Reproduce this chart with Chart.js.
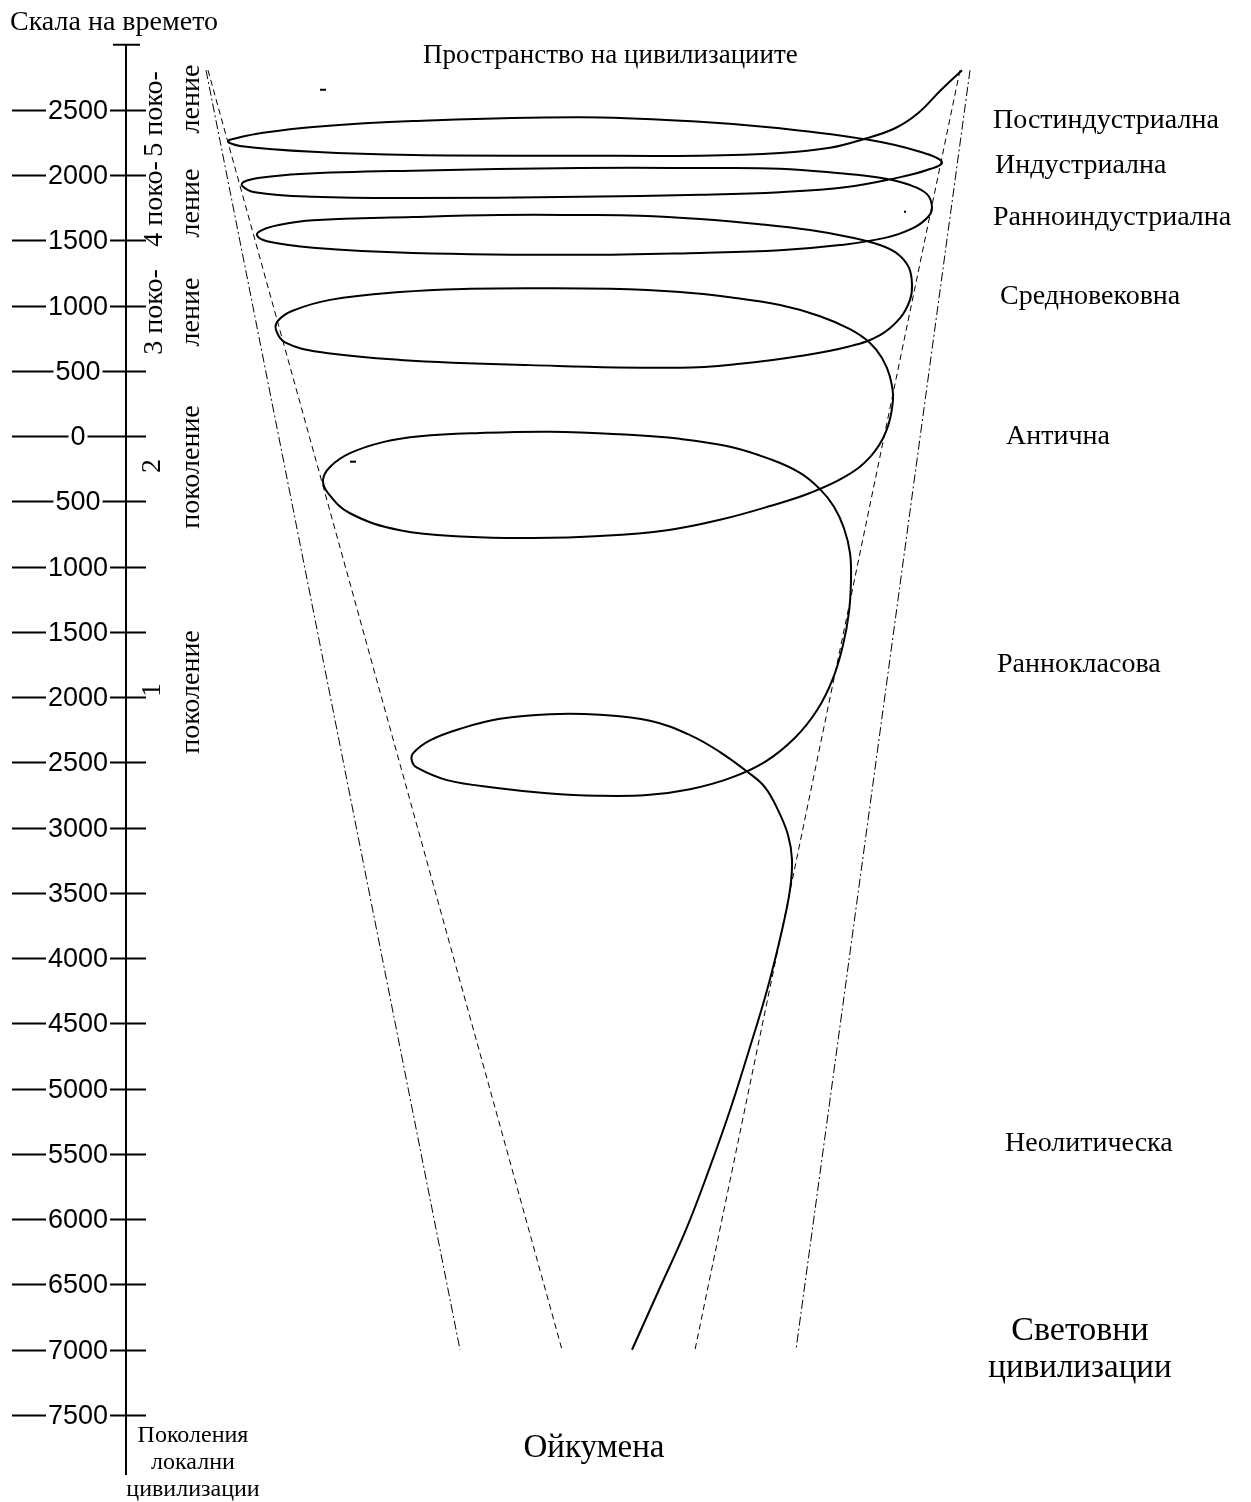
<!DOCTYPE html>
<html>
<head>
<meta charset="utf-8">
<script src="https://cdn.jsdelivr.net/npm/chart.js@4/dist/chart.umd.min.js"></script>
<style>
html,body{margin:0;padding:0;background:#fff;}
#wrap{width:1251px;height:1502px;position:relative;}
canvas{display:block;}
</style>
</head>
<body>
<div id="wrap"><canvas id="c" width="1251" height="1502"></canvas></div>
<script>
// ---- DATA ----
const tickYears = [2500, 2000, 1500, 1000, 500, 0, -500, -1000, -1500, -2000, -2500, -3000, -3500, -4000, -4500, -5000, -5500, -6000, -6500, -7000, -7500];
const tickLabels = ['2500', '2000', '1500', '1000', '500', '0', '500', '1000', '1500', '2000', '2500', '3000', '3500', '4000', '4500', '5000', '5500', '6000', '6500', '7000', '7500'];

// spiral of civilizations: space position (x) and year (y), in path order from the Neolithic start
const spiralX = [632, 659, 686, 709, 730, 749, 767, 782, 790, 792, 788, 778, 765, 748, 720, 690, 650, 600, 550, 500,
  463, 430, 413, 412, 417, 447, 497, 547, 597, 647, 690, 730, 765, 795, 817, 833, 843, 849, 851, 850,
  844, 834, 820, 800, 770, 730, 680, 620, 550, 480, 420, 383, 350, 330, 323, 328, 350, 400, 467, 533,
  600, 667, 720, 770, 810, 845, 870, 886, 893, 890, 882, 870, 850, 820, 780, 730, 680, 610, 540, 470,
  400, 330, 292, 278, 276, 285, 320, 400, 530, 680, 740, 800, 850, 880, 900, 910, 912, 909, 898, 880,
  850, 810, 760, 700, 640, 580, 500, 413, 313, 280, 262, 257, 267, 313, 413, 580, 700, 780, 840, 885,
  913, 928, 932, 927, 910, 880, 840, 780, 700, 580, 413, 300, 260, 244, 242, 255, 313, 413, 580, 700,
  780, 847, 897, 927, 942, 920, 870, 780, 700, 580, 413, 313, 263, 237, 228, 240, 313, 413, 580, 700,
  780, 830, 865, 895, 918, 940, 962];
const spiralYear = [-7000, -6540, -6080, -5620, -5165, -4705, -4245, -3785, -3475, -3245, -3055, -2865, -2690, -2575, -2420, -2290, -2180, -2135, -2130, -2165,
  -2235, -2330, -2430, -2490, -2540, -2635, -2695, -2735, -2755, -2750, -2705, -2620, -2495, -2310, -2100, -1855, -1600, -1345, -1100, -895,
  -705, -540, -405, -280, -175, -80, -20, 15, 35, 25, 0, -45, -130, -235, -335, -435, -590, -720, -770, -780,
  -765, -720, -640, -535, -435, -310, -160, 35, 280, 455, 600, 715, 820, 920, 1005, 1065, 1105, 1130, 1135, 1130,
  1105, 1045, 960, 885, 815, 720, 645, 585, 545, 525, 555, 615, 690, 775, 905, 1045, 1160, 1290, 1395, 1465,
  1525, 1580, 1625, 1665, 1690, 1695, 1695, 1680, 1655, 1620, 1580, 1540, 1495, 1445, 1405, 1390, 1405, 1425, 1465, 1520,
  1595, 1680, 1755, 1855, 1925, 1980, 2015, 2050, 2055, 2055, 2035, 2010, 1980, 1950, 1920, 1870, 1835, 1825, 1835, 1850,
  1870, 1910, 1980, 2040, 2100, 2180, 2270, 2360, 2410, 2445, 2415, 2370, 2325, 2285, 2260, 2225, 2180, 2155, 2150, 2150,
  2170, 2210, 2280, 2360, 2475, 2645, 2805];

// stray specks in the original drawing
const speckX = [323, 905, 353];
const speckYear = [2655, 1720, -195];

// funnel boundaries (space position at top year and bottom year)
const funnelYears = [2805, -7000];
const leftOuterX = [206, 460];
const leftInnerX = [208, 562];
const rightInnerX = [960, 695];
const rightOuterX = [970, 796];

// time axis
const axisSpaceX = 126;
const axisYears = [3000, -7960];

const civilizations = ['Постиндустриална', 'Индустриална', 'Ранноиндустриална', 'Средновековна', 'Антична', 'Раннокласова', 'Неолитическа'];

// ---- CHART ----
const pts = (xs, ys) => xs.map((x, i) => ({x: x, y: ys[i]}));
const SERIF = '"Liberation Serif", "Times New Roman", serif';
const SANS = '"Liberation Sans", Arial, sans-serif';

const decor = {
  id: 'decor',
  beforeDraw(chart) {
    const ctx = chart.ctx;
    ctx.save();
    ctx.fillStyle = '#fff';
    ctx.fillRect(0, 0, chart.width, chart.height);
    ctx.restore();
  },
  afterDraw(chart) {
    const ctx = chart.ctx;
    const xs = chart.scales.x, ys = chart.scales.y;
    const ax = xs.getPixelForValue(axisSpaceX);
    ctx.save();
    ctx.strokeStyle = '#000';
    ctx.fillStyle = '#000';
    // vertical axis
    ctx.lineWidth = 2;
    ctx.beginPath();
    ctx.moveTo(ax, ys.getPixelForValue(axisYears[0]));
    ctx.lineTo(ax, ys.getPixelForValue(axisYears[1]));
    ctx.stroke();
    ctx.beginPath();
    const capY = ys.getPixelForValue(axisYears[0]);
    ctx.moveTo(ax - 13, capY); ctx.lineTo(ax + 14, capY);
    ctx.stroke();
    // ticks
    ctx.font = '27px ' + SANS;
    ctx.textAlign = 'center';
    ctx.textBaseline = 'middle';
    tickYears.forEach((v, i) => {
      const py = Math.round(ys.getPixelForValue(v)) + 0.5;
      ctx.lineWidth = 2;
      ctx.beginPath();
      ctx.moveTo(12, py); ctx.lineTo(ax + 20, py);
      ctx.stroke();
      const w = ctx.measureText(tickLabels[i]).width;
      ctx.fillStyle = '#fff';
      ctx.fillRect(78 - w / 2 - 2, py - 12, w + 4, 24);
      ctx.fillStyle = '#000';
      ctx.fillText(tickLabels[i], 78, py + 1);
    });
    // texts
    const txt = (s, x, y, size, align) => {
      ctx.font = size + 'px ' + SERIF;
      ctx.textAlign = align || 'left';
      ctx.fillText(s, x, y);
    };
    txt('Скала на времето', 10, 23, 28);
    txt('Пространство на цивилизациите', 423, 56, 27);
    const civY = [121, 166, 218, 297, 437, 665, 1144];
    const civX = [993, 995, 993, 1000, 1006, 997, 1005];
    civilizations.forEach((s, i) => txt(s, civX[i], civY[i], 28));
    txt('Световни', 1080, 1331, 34, 'center');
    txt('цивилизации', 1080, 1368, 33, 'center');
    txt('Ойкумена', 594, 1448, 33, 'center');
    txt('Поколения', 193, 1436, 24, 'center');
    txt('локални', 193, 1463, 24, 'center');
    txt('цивилизации', 193, 1490, 24, 'center');
    // rotated generation labels
    const rot = (s, x, y) => {
      ctx.save();
      ctx.translate(x, y);
      ctx.rotate(-Math.PI / 2);
      ctx.font = '28px ' + SERIF;
      ctx.textAlign = 'center';
      ctx.fillText(s, 0, 0);
      ctx.restore();
    };
    rot('5 поко-', 155, 114);
    rot('ление', 192, 99);
    rot('4 поко-', 155, 204);
    rot('ление', 192, 203);
    rot('3 поко-', 155, 312);
    rot('ление', 192, 312);
    rot('2', 153, 466);
    rot('поколение', 192, 467);
    rot('1', 153, 690);
    rot('поколение', 192, 692);
    ctx.restore();
  }
};

const lineDs = (xs, dash) => ({
  data: pts(xs, funnelYears), showLine: true, borderColor: '#000', borderWidth: 1,
  borderDash: dash, pointRadius: 0, tension: 0
});

new Chart(document.getElementById('c'), {
  type: 'scatter',
  data: {
    datasets: [
      {data: pts(spiralX, spiralYear), showLine: true, borderColor: '#000', borderWidth: 2, pointRadius: 0, tension: 0.4},
      lineDs(leftOuterX, [9, 3, 2, 3]),
      lineDs(leftInnerX, [6, 4]),
      lineDs(rightInnerX, [6, 4]),
      lineDs(rightOuterX, [9, 3, 2, 3]),
      {data: pts(speckX, speckYear), showLine: false, pointStyle: 'line', pointRadius: [3, 1, 3],
       borderColor: '#000', borderWidth: 2, backgroundColor: '#000'}
    ]
  },
  options: {
    responsive: false,
    animation: false,
    devicePixelRatio: 1,
    layout: {padding: 0, autoPadding: false},
    plugins: {legend: {display: false}, tooltip: {enabled: false}, title: {display: false}},
    scales: {
      x: {type: 'linear', min: 0, max: 1251, display: false},
      y: {type: 'linear', min: -8166.7, max: 3342.9, display: false}
    }
  },
  plugins: [decor]
});
</script>
</body>
</html>
